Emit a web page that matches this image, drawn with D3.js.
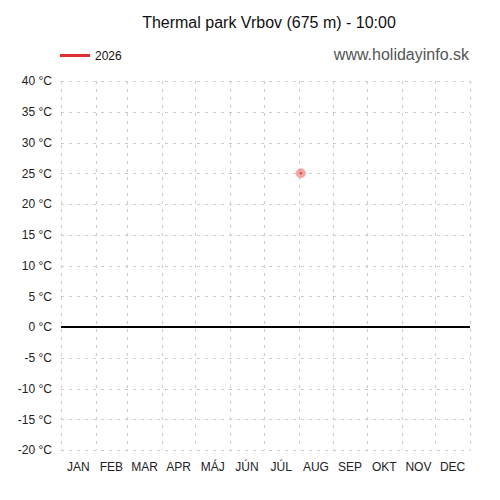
<!DOCTYPE html>
<html><head><meta charset="utf-8">
<script src="https://cdn.jsdelivr.net/npm/d3@7"></script>
<style>body{margin:0;background:#fff}svg{font-family:"Liberation Sans",Arial,sans-serif}</style>
</head><body><svg id="c" width="500" height="500"></svg>
<script>
const months = ["JAN","FEB","MAR","APR","MÁJ","JÚN","JÚL","AUG","SEP","OKT","NOV","DEC"];
const yTicks = [-20,-15,-10,-5,0,5,10,15,20,25,30,35,40];
const seriesName = "2026";
const pointDates = ["2026-08-03"];
const pointValues = [25];

const svg = d3.select("#c");
const L=61, R=470, T=81, B=450;
const x = d3.scaleTime().domain([new Date(2026,0,1), new Date(2027,0,1)]).range([L,R]);
const y = d3.scaleLinear().domain([-20,40]).range([B,T]);
const monthStarts = d3.range(13).map(i=>new Date(2026,i,1));

const grid = svg.append("g").attr("stroke","#ccc").attr("stroke-dasharray","3,5").attr("stroke-width",1);
yTicks.forEach(t=>grid.append("line").attr("x1",L).attr("x2",R).attr("y1",Math.round(y(t))+0.5).attr("y2",Math.round(y(t))+0.5));
monthStarts.forEach(d=>grid.append("line").attr("x1",Math.round(x(d))+0.5).attr("x2",Math.round(x(d))+0.5).attr("y1",T).attr("y2",B));

// zero line
svg.append("line").attr("x1",L).attr("x2",R).attr("y1",y(0)).attr("y2",y(0)).attr("stroke","#000").attr("stroke-width",2);

// y axis labels
const yAxis = d3.axisLeft(y).tickValues(yTicks).tickSize(0).tickPadding(9).tickFormat(d=>d+" °C");
const ya = svg.append("g").attr("transform",`translate(${L},0)`).call(yAxis);
ya.select(".domain").remove();
ya.selectAll("text").attr("font-size",12).attr("fill","#222").attr("font-family","Liberation Sans, Arial, sans-serif");

// x labels
const xa = svg.append("g");
months.forEach((m,i)=>{
  const cx = (x(monthStarts[i])+x(monthStarts[i+1]))/2;
  xa.append("text").attr("x",cx).attr("y",471).attr("text-anchor","middle").attr("font-size",12).attr("fill","#222").text(m);
});

// points
pointDates.forEach((d,i)=>{
  const px = x(new Date(d)), py = y(pointValues[i]);
  svg.append("circle").attr("cx",px).attr("cy",py).attr("r",5).attr("fill","#f08080").attr("opacity",0.7);
  svg.append("rect").attr("x",px-1).attr("y",py-1).attr("width",2).attr("height",2).attr("fill","#e03030");
});

// title
svg.append("text").attr("x",269).attr("y",28).attr("text-anchor","middle").attr("font-size",16).attr("fill","#111").text("Thermal park Vrbov (675 m) - 10:00");
svg.append("text").attr("x",469).attr("y",60).attr("text-anchor","end").attr("font-size",16).attr("fill","#555").text("www.holidayinfo.sk");

// legend
svg.append("line").attr("x1",60).attr("x2",90).attr("y1",55.5).attr("y2",55.5).attr("stroke","#e03030").attr("stroke-width",3);
svg.append("text").attr("x",95).attr("y",60).attr("font-size",12).attr("fill","#111").text(seriesName);
</script></body></html>
